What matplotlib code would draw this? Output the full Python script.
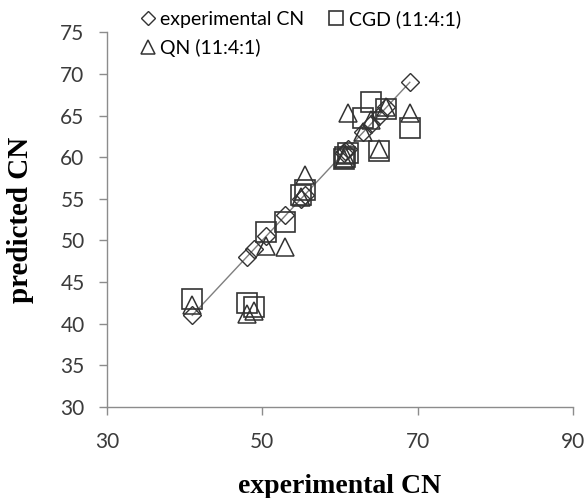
import matplotlib
matplotlib.use("Agg")
import matplotlib.pyplot as plt

# --- data ---
experimental = [41, 48, 49, 50.5, 53, 55, 55.5, 60.5, 60.7, 61, 63, 64, 65, 66, 69]
cgd_pred = [43, 42.5, 42, 51, 52.2, 55.5, 56, 59.8, 60, 60.5, 64.7, 66.6, 60.8, 65.8, 63.5]
qn_pred = [42.3, 41.2, 41.5, 49.3, 49.2, 55.2, 57.9, 59.8, 60.3, 65.3, 63, 64.5, 61, 66, 65.3]

x_ticks = [30, 50, 70, 90]
y_ticks = [30, 35, 40, 45, 50, 55, 60, 65, 70, 75]

sans = "Lato"
serif = "Liberation Serif"
axis_gray = "#8c8c8c"
mark = "#333333"

fig = plt.figure(figsize=(5.87, 4.98), dpi=100)
ax = fig.add_axes([0.182, 0.183, 0.794, 0.752])

# experimental series: line with diamond markers
ax.plot(experimental, experimental, "-", color="#7f7f7f", linewidth=1.0, zorder=2)
h_exp, = ax.plot(experimental, experimental, "D", markersize=9, markerfacecolor="none",
                 markeredgecolor=mark, markeredgewidth=1.0, linestyle="none",
                 label="experimental CN", zorder=3)
h_cgd, = ax.plot(experimental, cgd_pred, "s", markersize=14, markerfacecolor="none",
                 markeredgecolor=mark, markeredgewidth=1.2, linestyle="none",
                 label="CGD (11:4:1)", zorder=3)
h_qn, = ax.plot(experimental, qn_pred, "^", markersize=13, markerfacecolor="none",
                markeredgecolor=mark, markeredgewidth=1.1, linestyle="none",
                label="QN (11:4:1)", zorder=3)

ax.set_xlim(30, 90)
ax.set_ylim(30, 75)
ax.set_xticks(x_ticks)
ax.set_yticks(y_ticks)

for side in ["top", "right"]:
    ax.spines[side].set_visible(False)
for side in ["left", "bottom"]:
    ax.spines[side].set_color(axis_gray)
    ax.spines[side].set_linewidth(1.0)

ax.tick_params(axis="both", direction="out", length=6, width=1, color=axis_gray,
               labelsize=15, labelcolor="#3b3b3b")
ax.tick_params(axis="x", pad=12)
ax.tick_params(axis="y", pad=10)
for lbl in ax.get_xticklabels() + ax.get_yticklabels():
    lbl.set_fontfamily(sans)

ax.set_xlabel("experimental CN", fontsize=20, fontweight="bold", family=serif, labelpad=16)
ax.set_ylabel("predicted CN", fontsize=21, fontweight="bold", family=serif, labelpad=19)

# legend: column order gives row1 exp / CGD, row2 QN
fig.legend(handles=[h_exp, h_qn, h_cgd], loc="upper left", bbox_to_anchor=(0.21, 1.015),
           ncol=2, frameon=False, markerscale=0.75, handlelength=0.7, handletextpad=0.3,
           columnspacing=1.3, labelspacing=0.55,
           prop={"family": sans, "size": 14})

fig.savefig("out.png", dpi=100)
